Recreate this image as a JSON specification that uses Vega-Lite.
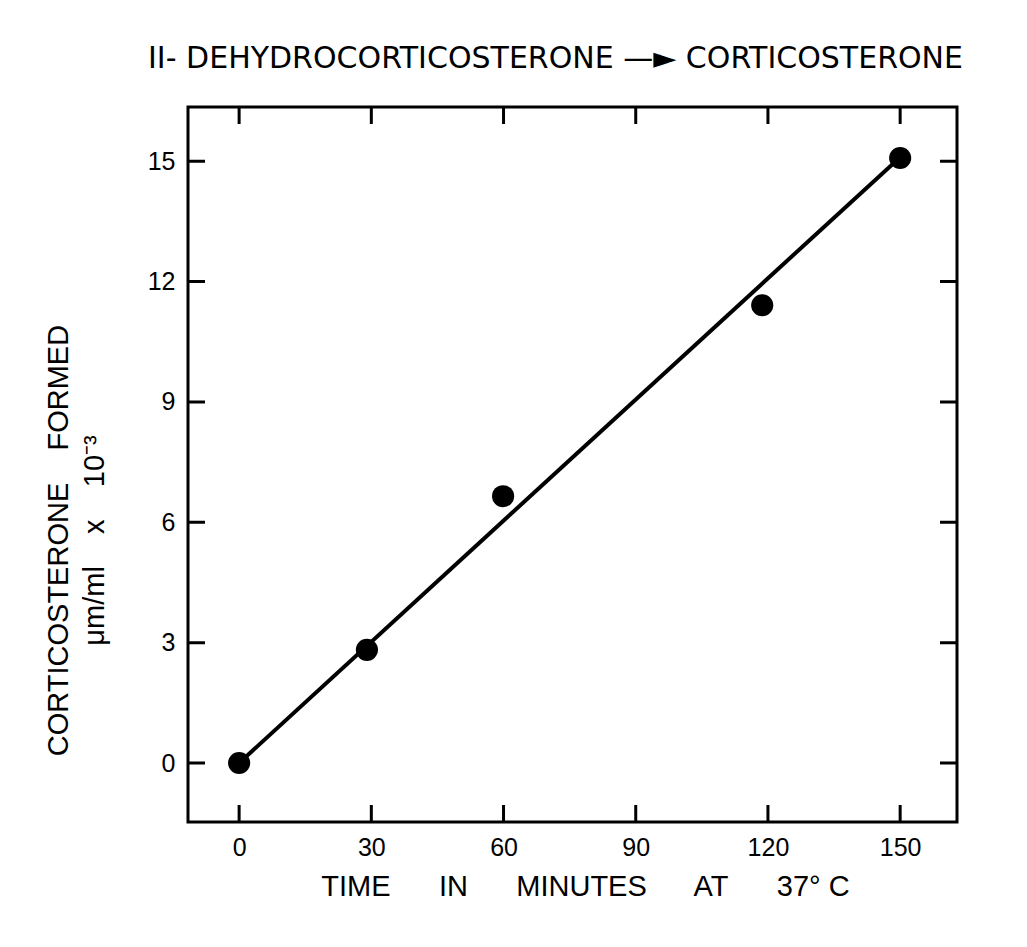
{
  "$schema": "https://vega.github.io/schema/vega-lite/v6.json",
  "width": 769,
  "height": 715,
  "autosize": {"type": "none"},
  "padding": {"left": 188, "top": 107, "right": 70, "bottom": 125},
  "background": "white",
  "config": {
    "view": {"stroke": "black", "strokeWidth": 3},
    "axis": {
      "grid": false,
      "domain": false,
      "ticks": false,
      "tickSize": 0,
      "labelFont": "Liberation Sans",
      "labelFontSize": 25,
      "labelColor": "black",
      "titleFont": "Liberation Sans",
      "titleFontSize": 29,
      "titleFontWeight": "normal",
      "titleColor": "black"
    }
  },
  "title": {
    "text": "II- DEHYDROCORTICOSTERONE —► CORTICOSTERONE",
    "font": "DejaVu Sans",
    "fontSize": 30,
    "fontWeight": "normal",
    "color": "black",
    "offset": 33,
    "dx": -17
  },
  "datasets": {
    "points": [
      {"time": 0, "value": 0},
      {"time": 29, "value": 2.82},
      {"time": 59.9, "value": 6.65},
      {"time": 118.7, "value": 11.41},
      {"time": 150, "value": 15.08}
    ],
    "fit": [
      {"time": 0, "value": 0},
      {"time": 150, "value": 15.1}
    ],
    "xticks": [
      {"time": 0}, {"time": 30}, {"time": 60}, {"time": 90}, {"time": 120}, {"time": 150}
    ],
    "yticks": [
      {"value": 0}, {"value": 3}, {"value": 6}, {"value": 9}, {"value": 12}, {"value": 15}
    ]
  },
  "layer": [
    {
      "data": {"name": "fit"},
      "mark": {"type": "line", "color": "black", "strokeWidth": 4},
      "encoding": {
        "x": {
          "field": "time", "type": "quantitative",
          "scale": {"domain": [-11.6, 162.9], "nice": false, "zero": false},
          "axis": {
            "orient": "bottom",
            "values": [0, 30, 60, 90, 120, 150],
            "labelPadding": 13,
            "title": "TIME\u00a0\u00a0\u00a0\u00a0\u00a0 IN\u00a0\u00a0\u00a0\u00a0\u00a0 MINUTES\u00a0\u00a0\u00a0\u00a0\u00a0 AT\u00a0\u00a0\u00a0\u00a0\u00a0 37° C",
            "titlePadding": 12,
            "titleX": 397
          }
        },
        "y": {
          "field": "value", "type": "quantitative",
          "scale": {"domain": [-1.47, 16.35], "nice": false, "zero": false},
          "axis": {
            "orient": "left",
            "values": [0, 3, 6, 9, 12, 15],
            "labelPadding": 13,
            "title": ["CORTICOSTERONE\u00a0\u00a0\u00a0 FORMED", "μm/ml\u00a0\u00a0\u00a0 x\u00a0\u00a0\u00a0 10⁻³"],
            "titleLineHeight": 36,
            "titlePadding": 38,
            "titleY": 433
          }
        }
      }
    },
    {
      "data": {"name": "points"},
      "mark": {"type": "circle", "size": 490, "color": "black", "opacity": 1},
      "encoding": {
        "x": {"field": "time", "type": "quantitative"},
        "y": {"field": "value", "type": "quantitative"}
      }
    },
    {
      "data": {"name": "xticks"},
      "mark": {"type": "tick", "orient": "vertical", "size": 34, "thickness": 3, "color": "black", "opacity": 1, "clip": true},
      "encoding": {
        "x": {"field": "time", "type": "quantitative"},
        "y": {"datum": -1.47, "type": "quantitative"}
      }
    },
    {
      "data": {"name": "xticks"},
      "mark": {"type": "tick", "orient": "vertical", "size": 34, "thickness": 3, "color": "black", "opacity": 1, "clip": true},
      "encoding": {
        "x": {"field": "time", "type": "quantitative"},
        "y": {"datum": 16.35, "type": "quantitative"}
      }
    },
    {
      "data": {"name": "yticks"},
      "mark": {"type": "tick", "orient": "horizontal", "size": 34, "thickness": 3, "color": "black", "opacity": 1, "clip": true},
      "encoding": {
        "y": {"field": "value", "type": "quantitative"},
        "x": {"datum": -11.6, "type": "quantitative"}
      }
    },
    {
      "data": {"name": "yticks"},
      "mark": {"type": "tick", "orient": "horizontal", "size": 34, "thickness": 3, "color": "black", "opacity": 1, "clip": true},
      "encoding": {
        "y": {"field": "value", "type": "quantitative"},
        "x": {"datum": 162.9, "type": "quantitative"}
      }
    }
  ]
}
